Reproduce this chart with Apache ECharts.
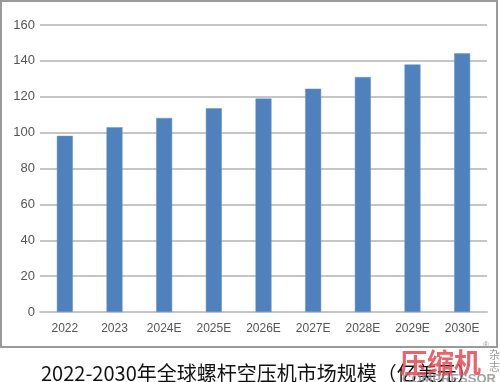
<!DOCTYPE html>
<html>
<head>
<meta charset="utf-8">
<script src="https://cdn.jsdelivr.net/npm/echarts@6/dist/echarts.min.js"></script>
<style>html,body{margin:0;padding:0;background:#fff;}#c{width:500px;height:382px;}</style>
</head>
<body>
<div id="c"></div>
<script>
var categories = ['2022','2023','2024E','2025E','2026E','2027E','2028E','2029E','2030E'];
var values = [98.2, 103, 108.2, 113.6, 119, 124.5, 131, 138, 144.2];
var yTicks = [0, 20, 40, 60, 80, 100, 120, 140, 160];
var titleText = '2022-2030年全球螺杆空压机市场规模（亿美元）';

var chart = echarts.init(document.getElementById('c'), null, {renderer: 'canvas'});
chart.setOption({
  animation: false,
  backgroundColor: '#fff',
  title: {
    text: titleText,
    left: 36, top: 358,
    textStyle: {fontFamily: 'Noto Sans CJK SC', fontSize: 20, fontWeight: 'normal', color: '#111'}
  },
  grid: {left: 40, right: 13, top: 25, bottom: 70, containLabel: false},
  xAxis: {
    type: 'category', data: categories,
    axisLine: {show: true, lineStyle: {color: '#c6c6c6', width: 2}},
    axisTick: {show: false},
    axisLabel: {color: '#555', fontSize: 12, fontFamily: 'Liberation Sans', margin: 11}
  },
  yAxis: {
    type: 'value', min: yTicks[0], max: yTicks[yTicks.length-1], interval: 20,
    axisLine: {show: false}, axisTick: {show: false},
    splitLine: {lineStyle: {color: '#c6c6c6', width: 2}},
    axisLabel: {color: '#555', fontSize: 13, fontFamily: 'Liberation Sans', margin: 5}
  },
  series: [{
    type: 'bar', data: values, barWidth: 16,
    itemStyle: {color: '#4f81bd', borderColor: '#6a95c8', borderWidth: 0.5}
  }],
  graphic: [
    {type: 'rect', shape: {x: 1, y: 1, width: 496, height: 346}, style: {fill: 'none', stroke: '#9a9a9a', lineWidth: 2}, silent: true},
    {type: 'text', left: 400, top: 349, style: {text: '压缩机', fill: 'rgba(232,70,80,0.85)', font: 'bold 27px "Noto Sans CJK SC"'}, z: 10},
    {type: 'text', left: 483, top: 341, style: {text: '®', fill: '#999', font: '8px "Liberation Sans"'}, z: 10},
    {type: 'text', left: 489, top: 349, style: {text: '杂\n志', fill: '#999', font: '11px "Noto Sans CJK SC"', lineHeight: 12}, z: 10},
    {type: 'text', left: 402, top: 373, style: {text: 'COMPRESSOR', fill: 'rgba(140,140,140,0.8)', font: 'bold 13px "Liberation Sans"'}, z: 9}
  ]
});
</script>
</body>
</html>
